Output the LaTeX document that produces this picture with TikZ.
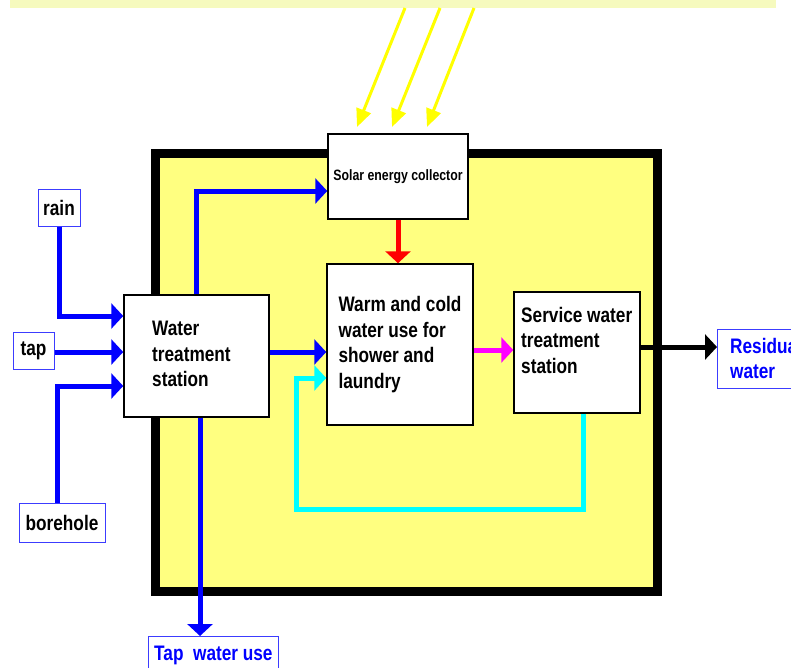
\documentclass[tikz,border=0pt]{standalone}
\usepackage{fontspec}
\setmainfont{Liberation Sans}[FakeStretch=0.82]
\usetikzlibrary{arrows.meta}
\definecolor{stripc}{RGB}{246,250,190}
\definecolor{fillc}{RGB}{255,255,128}
\definecolor{labblue}{RGB}{60,60,255}
\definecolor{pblue}{RGB}{0,0,255}
\definecolor{pcyan}{RGB}{0,255,255}
\definecolor{pmag}{RGB}{255,0,255}
\definecolor{pyel}{RGB}{255,255,0}
\tikzset{
  bigfont/.style={font=\fontsize{21}{25.5}\selectfont\bfseries},
  procbox/.style={draw=black, line width=1.5pt, fill=white, inner sep=0pt, align=left, bigfont},
  boxtext/.style={bigfont, align=left, anchor=north west, inner sep=0pt},
  labbox/.style={draw=labblue, line width=1pt, fill=white, inner sep=0pt, bigfont},
  flow/.style={line width=5pt, -{Triangle[length=12pt,width=25pt]}},
  sun/.style={draw=pyel, line width=3pt, -{Triangle[length=18pt,width=15pt]}},
}
\begin{document}
\begin{tikzpicture}[x=1pt,y=-1pt]
\useasboundingbox (0,0) rectangle (791,667);
\clip (0,0) rectangle (791,667);
% top strip
\fill[stripc] (10,0) rectangle (776,8);
% frame
\draw[line width=9pt, fill=fillc] (155,153) rectangle (657,591);
% boxes
\node[procbox, minimum width=145pt, minimum height=122pt] (wts) at (196.5,356) {};
\node[boxtext] (wtstext) at (152,321) {Water\\treatment\\station};
\node[procbox, minimum width=140pt, minimum height=85pt, font=\fontsize{15}{18}\selectfont\bfseries] (solar) at (398,176.5) {Solar energy collector};
\node[procbox, minimum width=146pt, minimum height=161pt] (warm) at (400,344.5) {Warm and cold\\water use for\\shower and\\laundry};
\node[procbox, minimum width=126pt, minimum height=121pt] (service) at (577,352.5) {};
\node[boxtext] (servicetext) at (521,307) {Service water\\treatment\\station};
\node[labbox, minimum width=42pt, minimum height=37pt] (rain) at (59,207.5) {rain};
\node[labbox, minimum width=41pt, minimum height=37pt] (tap) at (33.5,350.5) {tap};
\node[labbox, minimum width=86pt, minimum height=39pt] (bore) at (62,522.5) {borehole};
\node[labbox, minimum width=130pt, minimum height=48pt, anchor=north west] (tapuse) at (148,636) {};
\node[boxtext, text=pblue] (tapusetext) at (154,646) {Tap\ \ water use};
\node[labbox, minimum width=90pt, minimum height=59pt, anchor=north west] (resid) at (717,329) {};
\node[boxtext, text=pblue] (residtext) at (730,338) {Residual\\water};
% sun rays
\coordinate (r1a) at (405,8); \coordinate (r1b) at (357,127);
\coordinate (r2a) at (440,8); \coordinate (r2b) at (392,127);
\coordinate (r3a) at (474,8); \coordinate (r3b) at (427,127);
\draw[sun] (r1a) -- (r1b);
\draw[sun] (r2a) -- (r2b);
\draw[sun] (r3a) -- (r3b);
% flows
\draw[flow, pblue] (rain.south) |- ([yshift=40pt]wts.west);
\draw[flow, pblue] ([yshift=-1.5pt]tap.east) -- ([yshift=-1.5pt]tap.east -| wts.west);
\draw[flow, pblue] (bore.north -| 57,0) |- ([yshift=-30pt]wts.west);
\draw[flow, pblue] (wts.north) |- ([yshift=-14.5pt]solar.west);
\draw[flow, pblue] ([yshift=4pt]wts.east) -- ([yshift=4pt]wts.east -| warm.west);
\draw[flow, pblue] ([xshift=3.5pt]wts.south) -- ([xshift=3.5pt]wts.south |- tapuse.north);
\draw[flow, red] (solar.south) -- (solar.south |- warm.north);
\draw[flow, pmag] ([yshift=-5.5pt]warm.east) -- ([yshift=-5.5pt]warm.east -| service.west);
\coordinate (cb) at (296,509);
\draw[flow, pcyan] ([xshift=6pt]service.south) |- (cb) |- ([yshift=-33.5pt]warm.west);
\draw[flow, black] ([yshift=5.5pt]service.east) -- ([yshift=5.5pt]service.east -| resid.west);
\end{tikzpicture}
\end{document}
